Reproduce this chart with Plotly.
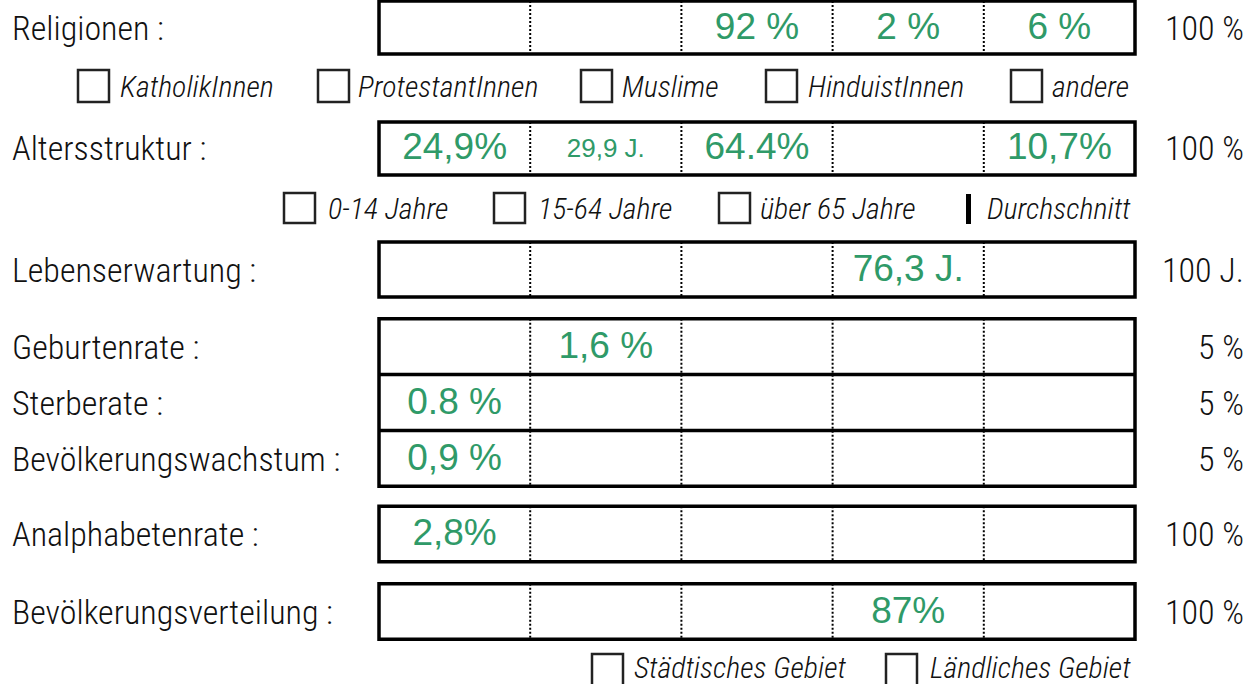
import plotly.graph_objects as go

# ---------------- data ----------------
row_labels = ["Religionen :", "Altersstruktur :", "Lebenserwartung :", "Geburtenrate :",
              "Sterberate :", "Bevölkerungswachstum :", "Analphabetenrate :",
              "Bevölkerungsverteilung :"]
row_max = ["100 %", "100 %", "100 J.", "5 %", "5 %", "5 %", "100 %", "100 %"]

value_rows = [0, 0, 0, 1, 1, 1, 1, 2, 3, 4, 5, 6, 7]
value_cells = [2, 3, 4, 0, 1, 2, 4, 3, 1, 0, 0, 0, 3]
value_texts = ["92 %", "2 %", "6 %", "24,9%", "29,9 J.", "64.4%", "10,7%", "76,3 J.",
               "1,6 %", "0.8 %", "0,9 %", "2,8%", "87%"]
value_small = [False, False, False, False, True, False, False, False,
               False, False, False, False, False]

legend_religion = ["KatholikInnen", "ProtestantInnen", "Muslime", "HinduistInnen", "andere"]
legend_age = ["0-14 Jahre", "15-64 Jahre", "über 65 Jahre"]
legend_avg = "Durchschnitt"
legend_area = ["Städtisches Gebiet", "Ländliches Gebiet"]

# ---------------- layout constants ----------------
W, H = 1258, 684
BOX_X0, BOX_X1 = 379, 1135
N_CELLS = 5
CELL_W = (BOX_X1 - BOX_X0) / N_CELLS
row_centers = [28, 148, 269.5, 346.5, 402.5, 458.5, 534, 611.5]
box_groups = [[1, 54], [122, 175], [242, 297], [318.7, 374.5, 430.5, 486.3],
              [506.3, 561.7], [583.8, 639.3]]

GREEN = "#2f9a68"
NARROW = "Roboto Condensed, Liberation Sans Narrow, Arial Narrow, DejaVu Sans Condensed, sans-serif"
ARIAL = "Liberation Sans, Arial, sans-serif"

fig = go.Figure()
shapes = []
annotations = []

for g in box_groups:
    top, bottom = g[0], g[-1]
    for i in range(1, N_CELLS):
        x = BOX_X0 + i * CELL_W
        shapes.append(dict(type="line", x0=x, x1=x, y0=top, y1=bottom,
                           line=dict(color="black", width=2, dash="2px,2px")))
    for y in g[1:-1]:
        shapes.append(dict(type="line", x0=BOX_X0, x1=BOX_X1, y0=y, y1=y,
                           line=dict(color="black", width=3.5)))
    shapes.append(dict(type="rect", x0=BOX_X0, x1=BOX_X1, y0=top, y1=bottom,
                       line=dict(color="black", width=3.5)))

for lab, mx, yc in zip(row_labels, row_max, row_centers):
    annotations.append(dict(x=10, y=yc, text=lab, showarrow=False, xanchor="left",
                            yanchor="middle",
                            font=dict(family=NARROW, size=34, color="#111", weight=300)))
    annotations.append(dict(x=1246, y=yc, text=mx, showarrow=False, xanchor="right",
                            yanchor="middle",
                            font=dict(family=NARROW, size=34, color="#111", weight=300)))

for small in (False, True):
    xs, ys, ts = [], [], []
    for r, c, t, s in zip(value_rows, value_cells, value_texts, value_small):
        if s == small:
            xs.append(BOX_X0 + (c + 0.5) * CELL_W)
            ys.append(row_centers[r] + 2)
            ts.append(t)
    fig.add_trace(go.Scatter(x=xs, y=ys, text=ts, mode="text", textposition="middle center",
                             textfont=dict(family=ARIAL, size=26 if small else 37, color=GREEN),
                             hoverinfo="skip", showlegend=False))

def checkbox(x0, y0, y1):
    shapes.append(dict(type="rect", x0=x0, x1=x0 + 31, y0=y0, y1=y1,
                       line=dict(color="#222", width=2.5)))

def legtext(x, y, t):
    annotations.append(dict(x=x, y=y, text=t, showarrow=False, xanchor="left", yanchor="middle",
                            font=dict(family=NARROW, size=30, color="#111", style="italic",
                                      weight=300)))

rel_box_x = [78, 318, 581, 766, 1011]
rel_txt_x = [118, 356, 620, 806, 1050]
for lab, bx, tx in zip(legend_religion, rel_box_x, rel_txt_x):
    checkbox(bx, 70, 102)
    legtext(tx, 86, lab)

age_box_x = [284, 494, 719]
age_txt_x = [326, 536, 758]
for lab, bx, tx in zip(legend_age, age_box_x, age_txt_x):
    checkbox(bx, 193, 223)
    legtext(tx, 208, lab)
shapes.append(dict(type="rect", x0=966, x1=971, y0=194, y1=224, fillcolor="black",
                   line=dict(width=0)))
legtext(985, 208, legend_avg)

area_box_x = [592, 886]
area_txt_x = [632, 928]
for lab, bx, tx in zip(legend_area, area_box_x, area_txt_x):
    checkbox(bx, 654, 690)
    legtext(tx, 667, lab)

fig.update_layout(
    width=W, height=H, margin=dict(l=0, r=0, t=0, b=0),
    paper_bgcolor="white", plot_bgcolor="white",
    xaxis=dict(range=[0, W], visible=False, fixedrange=True),
    yaxis=dict(range=[H, 0], visible=False, fixedrange=True),
    shapes=shapes, annotations=annotations, showlegend=False,
)

fig.write_html("out.html", config={"displayModeBar": False},
               post_script="document.body.style.margin='0';")
